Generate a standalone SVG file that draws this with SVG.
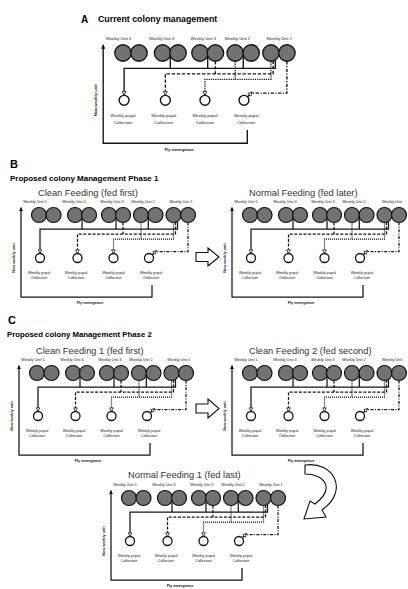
<svg xmlns="http://www.w3.org/2000/svg" width="408" height="589" viewBox="0 0 408 589">
<style>
.hd{font-family:"Liberation Sans",Arial,sans-serif;font-weight:bold;fill:#000}
.sub{font-family:"Liberation Sans",Arial,sans-serif;font-size:9.3px;fill:#333}
.lab{font-family:"Liberation Sans",Arial,sans-serif;font-size:3.8px;fill:#1a1a1a;text-anchor:middle}
.axl{font-family:"Liberation Sans",Arial,sans-serif;font-size:3.8px;font-weight:bold;fill:#111;text-anchor:middle}
.u{fill:#727272;stroke:#111;stroke-width:1.2}
.col{fill:#fff;stroke:#111;stroke-width:1.3}
.ln{fill:none;stroke:#151515;stroke-width:1.25}
.dsh{stroke-dasharray:3 1.6}
.dot{stroke-dasharray:1.1 0.9}
.dd{stroke-dasharray:3 1.4 1 1.4}
.hol{fill:#fff;stroke:#111;stroke-width:1.1}
</style>
<defs>
<marker id="ah" viewBox="0 0 6 6" refX="5.5" refY="3" markerWidth="4.5" markerHeight="4.5" orient="auto" markerUnits="userSpaceOnUse">
<path d="M0.6,0.6 L5.5,3 L0.6,5.4 Z" fill="#fff" stroke="#111" stroke-width="1"/>
</marker>
<marker id="ax" viewBox="0 0 6 6" refX="5.5" refY="3" markerWidth="4" markerHeight="4" orient="auto" markerUnits="userSpaceOnUse">
<path d="M0,0 L6,3 L0,6 Z" fill="#111"/>
</marker>
</defs>
<rect width="408" height="589" fill="#fff"/>

<!-- Headings -->
<text class="hd" x="81" y="23" font-size="10">A</text>
<text class="hd" x="98" y="22" font-size="8.8">Current colony management</text>
<text class="hd" x="10" y="168" font-size="11">B</text>
<text class="hd" x="10" y="180.5" font-size="8">Proposed colony Management Phase 1</text>
<text class="hd" x="8" y="324" font-size="11">C</text>
<text class="hd" x="7" y="336.5" font-size="7.8">Proposed colony Management Phase 2</text>

<!-- Panel A -->
<g id="panel-a" transform="matrix(1.1 0 0 1.1 80.1 -183.5)">
 <g id="a-unit5"><text class="lab" x="35" y="203">Weekly Unit 5</text><circle class="u" cx="39" cy="215" r="7.5"/><circle class="u" cx="53.5" cy="215" r="7.5"/></g>
 <g id="a-unit4"><text class="lab" x="74" y="203">Weekly Unit 4</text><circle class="u" cx="75" cy="215" r="7.5"/><circle class="u" cx="89" cy="215" r="7.5"/></g>
 <g id="a-unit3"><text class="lab" x="112" y="203">Weekly Unit 3</text><circle class="u" cx="109" cy="215" r="7.5"/><circle class="u" cx="123" cy="215" r="7.5"/></g>
 <g id="a-unit2"><text class="lab" x="143" y="203">Weekly Unit 2</text><circle class="u" cx="141" cy="215" r="7.5"/><circle class="u" cx="155.5" cy="215" r="7.5"/></g>
 <g id="a-unit1"><text class="lab" x="181" y="203">Weekly Unit 1</text><circle class="u" cx="173.5" cy="215" r="7.5"/><circle class="u" cx="188" cy="215" r="7.5"/></g>
 <g id="a-col1"><circle class="col" cx="40" cy="258" r="4.5"/><text class="lab" x="39" y="273.6">Weekly pupal</text><text class="lab" x="39" y="279.3">Collection</text></g>
 <g id="a-col2"><circle class="col" cx="77.5" cy="258" r="4.5"/><text class="lab" x="76" y="273.6">Weekly pupal</text><text class="lab" x="76" y="279.3">Collection</text></g>
 <g id="a-col3"><circle class="col" cx="113.5" cy="258" r="4.5"/><text class="lab" x="113.5" y="273.6">Weekly pupal</text><text class="lab" x="113.5" y="279.3">Collection</text></g>
 <g id="a-col4"><circle class="col" cx="149" cy="258" r="4.5"/><text class="lab" x="151" y="273.6">Weekly pupal</text><text class="lab" x="151" y="279.3">Collection</text></g>
 <g id="a-links">
  <path class="ln" d="M177.5 221.3V229H40V253.5" marker-end="url(#ah)"/>
  <path class="ln" d="M82 218V229M116 218V229M148.3 217V229"/>
  <path class="ln dsh" d="M123 222.5V234"/>
  <path class="ln dsh" d="M175.5 222V234H77.5V253.5" marker-end="url(#ah)"/>
  <path class="ln dot" d="M141 222.5V239"/>
  <path class="ln dot" d="M173.5 222.5V239H113.5V253.5" marker-end="url(#ah)"/>
  <path class="ln dd" d="M188 222.5V251.5H157"/>
  <path class="ln" d="M152.3 254.7L156.5 250.5" marker-end="url(#ah)"/>
  <path class="ln" d="M152 285V297H21V207.5" marker-end="url(#ax)"/>
 </g>
 <text class="axl" transform="translate(15.3 258) rotate(-90)">New weekly unit</text>
 <text class="axl" x="90" y="304">Fly emergence</text>
</g>

<!-- Panel B left -->
<g id="panel-b1">
 <text class="sub" x="38" y="195.5">Clean Feeding (fed first)</text>
 <g id="b1-unit5"><text class="lab" x="35" y="203">Weekly Unit 5</text><circle class="u" cx="39" cy="215" r="7.5"/><circle class="u" cx="53.5" cy="215" r="7.5"/></g>
 <g id="b1-unit4"><text class="lab" x="74" y="203">Weekly Unit 4</text><circle class="u" cx="75" cy="215" r="7.5"/><circle class="u" cx="89" cy="215" r="7.5"/></g>
 <g id="b1-unit3"><text class="lab" x="112" y="203">Weekly Unit 3</text><circle class="u" cx="109" cy="215" r="7.5"/><circle class="u" cx="123" cy="215" r="7.5"/></g>
 <g id="b1-unit2"><text class="lab" x="143" y="203">Weekly Unit 2</text><circle class="u" cx="141" cy="215" r="7.5"/><circle class="u" cx="155.5" cy="215" r="7.5"/></g>
 <g id="b1-unit1"><text class="lab" x="181" y="203">Weekly Unit 1</text><circle class="u" cx="173.5" cy="215" r="7.5"/><circle class="u" cx="188" cy="215" r="7.5"/></g>
 <g id="b1-col1"><circle class="col" cx="40" cy="258" r="4.5"/><text class="lab" x="39" y="273.6">Weekly pupal</text><text class="lab" x="39" y="279.3">Collection</text></g>
 <g id="b1-col2"><circle class="col" cx="77.5" cy="258" r="4.5"/><text class="lab" x="76" y="273.6">Weekly pupal</text><text class="lab" x="76" y="279.3">Collection</text></g>
 <g id="b1-col3"><circle class="col" cx="113.5" cy="258" r="4.5"/><text class="lab" x="113.5" y="273.6">Weekly pupal</text><text class="lab" x="113.5" y="279.3">Collection</text></g>
 <g id="b1-col4"><circle class="col" cx="149" cy="258" r="4.5"/><text class="lab" x="151" y="273.6">Weekly pupal</text><text class="lab" x="151" y="279.3">Collection</text></g>
 <g id="b1-links">
  <path class="ln" d="M177.5 221.3V229H40V253.5" marker-end="url(#ah)"/>
  <path class="ln" d="M82 218V229M116 218V229M148.3 217V229"/>
  <path class="ln dsh" d="M123 222.5V234"/>
  <path class="ln dsh" d="M175.5 222V234H77.5V253.5" marker-end="url(#ah)"/>
  <path class="ln dot" d="M141 222.5V239"/>
  <path class="ln dot" d="M173.5 222.5V239H113.5V253.5" marker-end="url(#ah)"/>
  <path class="ln dd" d="M188 222.5V251.5H157"/>
  <path class="ln" d="M152.3 254.7L156.5 250.5" marker-end="url(#ah)"/>
  <path class="ln" d="M152 285V297H21V207.5" marker-end="url(#ax)"/>
 </g>
 <text class="axl" transform="translate(15.3 258) rotate(-90)">New weekly unit</text>
 <text class="axl" x="90" y="304">Fly emergence</text>
</g>

<!-- Panel B right -->
<g id="panel-b2" transform="translate(211 0)">
 <text class="sub" x="38" y="195.5">Normal Feeding (fed later)</text>
 <g id="b2-unit5"><text class="lab" x="35" y="203">Weekly Unit 5</text><circle class="u" cx="39" cy="215" r="7.5"/><circle class="u" cx="53.5" cy="215" r="7.5"/></g>
 <g id="b2-unit4"><text class="lab" x="74" y="203">Weekly Unit 4</text><circle class="u" cx="75" cy="215" r="7.5"/><circle class="u" cx="89" cy="215" r="7.5"/></g>
 <g id="b2-unit3"><text class="lab" x="112" y="203">Weekly Unit 3</text><circle class="u" cx="109" cy="215" r="7.5"/><circle class="u" cx="123" cy="215" r="7.5"/></g>
 <g id="b2-unit2"><text class="lab" x="143" y="203">Weekly Unit 2</text><circle class="u" cx="141" cy="215" r="7.5"/><circle class="u" cx="155.5" cy="215" r="7.5"/></g>
 <g id="b2-unit1"><text class="lab" x="181" y="203">Weekly Unit</text><circle class="u" cx="173.5" cy="215" r="7.5"/><circle class="u" cx="188" cy="215" r="7.5"/></g>
 <g id="b2-col1"><circle class="col" cx="40" cy="258" r="4.5"/><text class="lab" x="39" y="273.6">Weekly pupal</text><text class="lab" x="39" y="279.3">Collection</text></g>
 <g id="b2-col2"><circle class="col" cx="77.5" cy="258" r="4.5"/><text class="lab" x="76" y="273.6">Weekly pupal</text><text class="lab" x="76" y="279.3">Collection</text></g>
 <g id="b2-col3"><circle class="col" cx="113.5" cy="258" r="4.5"/><text class="lab" x="113.5" y="273.6">Weekly pupal</text><text class="lab" x="113.5" y="279.3">Collection</text></g>
 <g id="b2-col4"><circle class="col" cx="149" cy="258" r="4.5"/><text class="lab" x="151" y="273.6">Weekly pupal</text><text class="lab" x="151" y="279.3">Collection</text></g>
 <g id="b2-links">
  <path class="ln" d="M177.5 221.3V229H40V253.5" marker-end="url(#ah)"/>
  <path class="ln" d="M82 218V229M116 218V229M148.3 217V229"/>
  <path class="ln dsh" d="M123 222.5V234"/>
  <path class="ln dsh" d="M175.5 222V234H77.5V253.5" marker-end="url(#ah)"/>
  <path class="ln dot" d="M141 222.5V239"/>
  <path class="ln dot" d="M173.5 222.5V239H113.5V253.5" marker-end="url(#ah)"/>
  <path class="ln dd" d="M188 222.5V251.5H157"/>
  <path class="ln" d="M152.3 254.7L156.5 250.5" marker-end="url(#ah)"/>
  <path class="ln" d="M152 285V297H21V207.5" marker-end="url(#ax)"/>
 </g>
 <text class="axl" transform="translate(15.3 258) rotate(-90)">New weekly unit</text>
 <text class="axl" x="90" y="304">Fly emergence</text>
</g>

<!-- Panel C left -->
<g id="panel-c1" transform="translate(-2 158)">
 <text class="sub" x="38" y="195.5">Clean Feeding 1 (fed first)</text>
 <g id="c1-unit5"><text class="lab" x="35" y="203">Weekly Unit 5</text><circle class="u" cx="39" cy="215" r="7.5"/><circle class="u" cx="53.5" cy="215" r="7.5"/></g>
 <g id="c1-unit4"><text class="lab" x="74" y="203">Weekly Unit 4</text><circle class="u" cx="75" cy="215" r="7.5"/><circle class="u" cx="89" cy="215" r="7.5"/></g>
 <g id="c1-unit3"><text class="lab" x="112" y="203">Weekly Unit 3</text><circle class="u" cx="109" cy="215" r="7.5"/><circle class="u" cx="123" cy="215" r="7.5"/></g>
 <g id="c1-unit2"><text class="lab" x="143" y="203">Weekly Unit 2</text><circle class="u" cx="141" cy="215" r="7.5"/><circle class="u" cx="155.5" cy="215" r="7.5"/></g>
 <g id="c1-unit1"><text class="lab" x="181" y="203">Weekly Unit 1</text><circle class="u" cx="173.5" cy="215" r="7.5"/><circle class="u" cx="188" cy="215" r="7.5"/></g>
 <g id="c1-col1"><circle class="col" cx="40" cy="258" r="4.5"/><text class="lab" x="39" y="273.6">Weekly pupal</text><text class="lab" x="39" y="279.3">Collection</text></g>
 <g id="c1-col2"><circle class="col" cx="77.5" cy="258" r="4.5"/><text class="lab" x="76" y="273.6">Weekly pupal</text><text class="lab" x="76" y="279.3">Collection</text></g>
 <g id="c1-col3"><circle class="col" cx="113.5" cy="258" r="4.5"/><text class="lab" x="113.5" y="273.6">Weekly pupal</text><text class="lab" x="113.5" y="279.3">Collection</text></g>
 <g id="c1-col4"><circle class="col" cx="149" cy="258" r="4.5"/><text class="lab" x="151" y="273.6">Weekly pupal</text><text class="lab" x="151" y="279.3">Collection</text></g>
 <g id="c1-links">
  <path class="ln" d="M177.5 221.3V229H40V253.5" marker-end="url(#ah)"/>
  <path class="ln" d="M82 218V229M116 218V229M148.3 217V229"/>
  <path class="ln dsh" d="M123 222.5V234"/>
  <path class="ln dsh" d="M175.5 222V234H77.5V253.5" marker-end="url(#ah)"/>
  <path class="ln dot" d="M141 222.5V239"/>
  <path class="ln dot" d="M173.5 222.5V239H113.5V253.5" marker-end="url(#ah)"/>
  <path class="ln dd" d="M188 222.5V251.5H157"/>
  <path class="ln" d="M152.3 254.7L156.5 250.5" marker-end="url(#ah)"/>
  <path class="ln" d="M152 285V297H21V207.5" marker-end="url(#ax)"/>
 </g>
 <text class="axl" transform="translate(15.3 258) rotate(-90)">New weekly unit</text>
 <text class="axl" x="90" y="304">Fly emergence</text>
</g>

<!-- Panel C right -->
<g id="panel-c2" transform="translate(211 158)">
 <text class="sub" x="38" y="195.5">Clean Feeding 2 (fed second)</text>
 <g id="c2-unit5"><text class="lab" x="35" y="203">Weekly Unit 5</text><circle class="u" cx="39" cy="215" r="7.5"/><circle class="u" cx="53.5" cy="215" r="7.5"/></g>
 <g id="c2-unit4"><text class="lab" x="74" y="203">Weekly Unit 4</text><circle class="u" cx="75" cy="215" r="7.5"/><circle class="u" cx="89" cy="215" r="7.5"/></g>
 <g id="c2-unit3"><text class="lab" x="112" y="203">Weekly Unit 3</text><circle class="u" cx="109" cy="215" r="7.5"/><circle class="u" cx="123" cy="215" r="7.5"/></g>
 <g id="c2-unit2"><text class="lab" x="143" y="203">Weekly Unit 2</text><circle class="u" cx="141" cy="215" r="7.5"/><circle class="u" cx="155.5" cy="215" r="7.5"/></g>
 <g id="c2-unit1"><text class="lab" x="181" y="203">Weekly Unit</text><circle class="u" cx="173.5" cy="215" r="7.5"/><circle class="u" cx="188" cy="215" r="7.5"/></g>
 <g id="c2-col1"><circle class="col" cx="40" cy="258" r="4.5"/><text class="lab" x="39" y="273.6">Weekly pupal</text><text class="lab" x="39" y="279.3">Collection</text></g>
 <g id="c2-col2"><circle class="col" cx="77.5" cy="258" r="4.5"/><text class="lab" x="76" y="273.6">Weekly pupal</text><text class="lab" x="76" y="279.3">Collection</text></g>
 <g id="c2-col3"><circle class="col" cx="113.5" cy="258" r="4.5"/><text class="lab" x="113.5" y="273.6">Weekly pupal</text><text class="lab" x="113.5" y="279.3">Collection</text></g>
 <g id="c2-col4"><circle class="col" cx="149" cy="258" r="4.5"/><text class="lab" x="151" y="273.6">Weekly pupal</text><text class="lab" x="151" y="279.3">Collection</text></g>
 <g id="c2-links">
  <path class="ln" d="M177.5 221.3V229H40V253.5" marker-end="url(#ah)"/>
  <path class="ln" d="M82 218V229M116 218V229M148.3 217V229"/>
  <path class="ln dsh" d="M123 222.5V234"/>
  <path class="ln dsh" d="M175.5 222V234H77.5V253.5" marker-end="url(#ah)"/>
  <path class="ln dot" d="M141 222.5V239"/>
  <path class="ln dot" d="M173.5 222.5V239H113.5V253.5" marker-end="url(#ah)"/>
  <path class="ln dd" d="M188 222.5V251.5H157"/>
  <path class="ln" d="M152.3 254.7L156.5 250.5" marker-end="url(#ah)"/>
  <path class="ln" d="M152 285V297H21V207.5" marker-end="url(#ax)"/>
 </g>
 <text class="axl" transform="translate(15.3 258) rotate(-90)">New weekly unit</text>
 <text class="axl" x="90" y="304">Fly emergence</text>
</g>

<!-- Panel C bottom -->
<g id="panel-c3" transform="translate(90 283)">
 <text class="sub" x="38" y="194.5" font-size="8.6">Normal Feeding 1 (fed last)</text>
 <g id="c3-unit5"><text class="lab" x="35" y="203">Weekly Unit 5</text><circle class="u" cx="39" cy="215" r="7.5"/><circle class="u" cx="53.5" cy="215" r="7.5"/></g>
 <g id="c3-unit4"><text class="lab" x="74" y="203">Weekly Unit 4</text><circle class="u" cx="75" cy="215" r="7.5"/><circle class="u" cx="89" cy="215" r="7.5"/></g>
 <g id="c3-unit3"><text class="lab" x="112" y="203">Weekly Unit 3</text><circle class="u" cx="109" cy="215" r="7.5"/><circle class="u" cx="123" cy="215" r="7.5"/></g>
 <g id="c3-unit2"><text class="lab" x="143" y="203">Weekly Unit 2</text><circle class="u" cx="141" cy="215" r="7.5"/><circle class="u" cx="155.5" cy="215" r="7.5"/></g>
 <g id="c3-unit1"><text class="lab" x="181" y="203">Weekly Unit 1</text><circle class="u" cx="173.5" cy="215" r="7.5"/><circle class="u" cx="188" cy="215" r="7.5"/></g>
 <g id="c3-col1"><circle class="col" cx="40" cy="258" r="4.5"/><text class="lab" x="39" y="273.6">Weekly pupal</text><text class="lab" x="39" y="279.3">Collection</text></g>
 <g id="c3-col2"><circle class="col" cx="77.5" cy="258" r="4.5"/><text class="lab" x="76" y="273.6">Weekly pupal</text><text class="lab" x="76" y="279.3">Collection</text></g>
 <g id="c3-col3"><circle class="col" cx="113.5" cy="258" r="4.5"/><text class="lab" x="113.5" y="273.6">Weekly pupal</text><text class="lab" x="113.5" y="279.3">Collection</text></g>
 <g id="c3-col4"><circle class="col" cx="149" cy="258" r="4.5"/><text class="lab" x="151" y="273.6">Weekly pupal</text><text class="lab" x="151" y="279.3">Collection</text></g>
 <g id="c3-links">
  <path class="ln" d="M177.5 221.3V229H40V253.5" marker-end="url(#ah)"/>
  <path class="ln" d="M82 218V229M116 218V229M148.3 217V229"/>
  <path class="ln dsh" d="M123 222.5V234"/>
  <path class="ln dsh" d="M175.5 222V234H77.5V253.5" marker-end="url(#ah)"/>
  <path class="ln dot" d="M141 222.5V239"/>
  <path class="ln dot" d="M173.5 222.5V239H113.5V253.5" marker-end="url(#ah)"/>
  <path class="ln dd" d="M188 222.5V251.5H157"/>
  <path class="ln" d="M152.3 254.7L156.5 250.5" marker-end="url(#ah)"/>
  <path class="ln" d="M152 285V297H21V207.5" marker-end="url(#ax)"/>
 </g>
 <text class="axl" transform="translate(15.3 258) rotate(-90)">New weekly unit</text>
 <text class="axl" x="90" y="304">Fly emergence</text>
</g>

<!-- Transition arrows -->
<g id="transition-arrows">
 <path class="hol" d="M196 252.5H208V248L219 257L208 266V261.5H196Z"/>
 <path class="hol" d="M196 404H208V399L219 408.5L208 418V413H196Z"/>
 <path class="hol" d="M305 465C333 461 350 490 322 510L326 517L304 519L310 501L315 504C336 488 324 474 305 474Z"/>
</g>
</svg>
